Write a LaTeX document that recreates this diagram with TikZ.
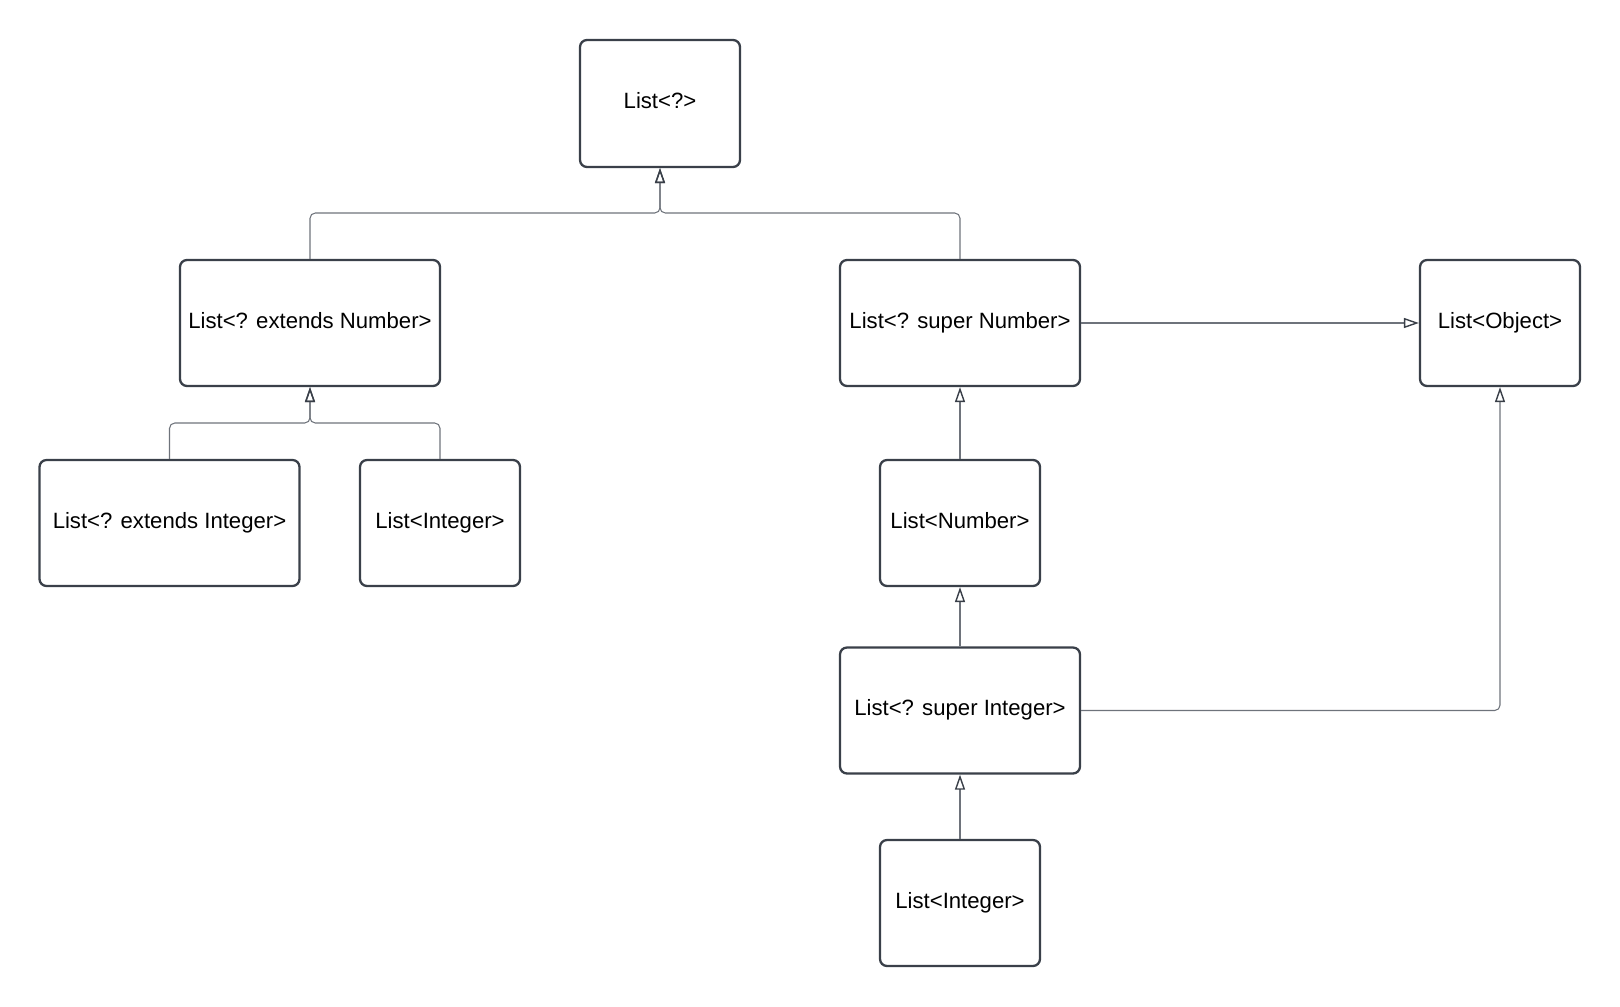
\documentclass[tikz,border=0pt]{standalone}
\usepackage{fontspec}
\setmainfont{Liberation Sans}
\usetikzlibrary{arrows.meta,positioning}
\definecolor{boxline}{HTML}{3A4049}
\definecolor{linegray}{HTML}{6E737B}

\begin{document}
\begin{tikzpicture}[
font=\fontsize{12.6}{15}\selectfont,
typebox/.style={draw=boxline,line width=1.3pt,rounded corners=4pt,fill=white,minimum height=2.52cm,inner sep=2pt,text height=0.35cm,text depth=0.15cm},
wide/.style={typebox,minimum width=5.2cm},
mid/.style={typebox,minimum width=4.8cm},
narrow/.style={typebox,minimum width=3.2cm},
subtype/.style={draw=linegray,line width=0.6pt,rounded corners=3pt,-{Triangle[open,length=0.3cm,width=0.2cm,line width=0.8pt,color=boxline]}}
]
    \useasboundingbox (0,0) rectangle (32.4,-20.12);

    % Type boxes
    \node[narrow, minimum height=2.54cm] (top) at (13.2,-2.07) {List<?>};
    \node[wide] (extnum) at (6.2,-6.46) {List<? extends Number>};
    \node[wide] (extint) at (3.39,-10.46) {List<? extends Integer>};
    \node[narrow] (intleft) at (8.8,-10.46) {List<Integer>};
    \node[mid] (supnum) at (19.2,-6.46) {List<? super Number>};
    \node[narrow] (object) at (30.0,-6.46) {List<Object>};
    \node[narrow] (number) at (19.2,-10.46) {List<Number>};
    \node[mid] (supint) at (19.2,-14.21) {List<? super Integer>};
    \node[narrow] (intbot) at (19.2,-18.06) {List<Integer>};

    % Junction points
    \coordinate (jtop) at (13.2,-4.26);
    \coordinate (jext) at (6.2,-8.46);

    % Subtype arrows
    \draw[subtype] (extnum.north) |- (jtop) -- (top.south);
    \draw[subtype] (supnum.north) |- (jtop) -- (top.south);
    \draw[subtype] (extint.north) |- (jext) -- (extnum.south);
    \draw[subtype] (intleft.north) |- (jext) -- (extnum.south);
    \draw[subtype] (number.north) -- (supnum.south);
    \draw[subtype] (supint.north) -- (number.south);
    \draw[subtype] (intbot.north) -- (supint.south);
    \draw[subtype] (supnum.east) -- (object.west);
    \draw[subtype] (supint.east) -| (object.south);

\end{tikzpicture}
\end{document}
